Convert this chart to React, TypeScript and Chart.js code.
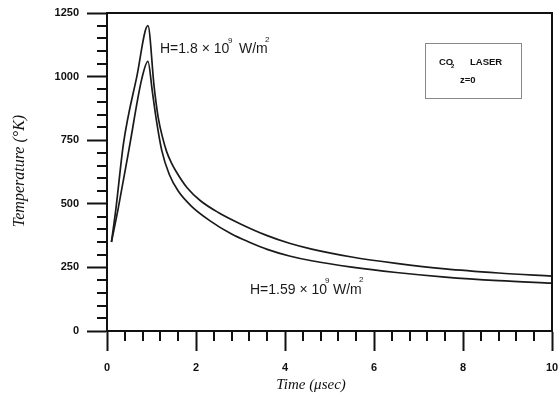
import React, { useEffect, useRef } from "react";
import { Chart, registerables } from "chart.js";

Chart.register(...registerables);

// Time (µsec) and temperature (°K) for H = 1.8 × 10^9 W/m²
const timeHigh = [0.1, 0.2, 0.37, 0.67, 0.92, 1.06, 1.15, 1.25, 1.34, 1.45, 1.55, 1.8, 2.1, 2.5, 3.0, 3.6, 4.1, 4.6, 5.5, 6.5, 7.6, 8.8, 10.0];
const tempHigh = [350, 480, 737, 1000, 1200, 959, 840, 760, 705, 660, 628, 563, 512, 466, 421, 375, 345, 322, 291, 266, 244, 228, 216];

// Time (µsec) and temperature (°K) for H = 1.59 × 10^9 W/m²
const timeLow = [0.1, 0.25, 0.5, 0.78, 0.92, 1.02, 1.1, 1.23, 1.4, 1.6, 1.9, 2.3, 2.8, 3.2, 3.6, 4.1, 4.6, 5.5, 6.5, 7.6, 8.8, 10.0];
const tempLow = [350, 480, 720, 990, 1060, 940, 840, 710, 615, 550, 490, 435, 381, 349, 321, 295, 276, 251, 230, 212, 198, 188];

// Axis ticks
const xMajorTicks = [0, 2, 4, 6, 8, 10];
const yMajorTicks = [0, 250, 500, 750, 1000, 1250];
const xMinorStep = 0.4;
const yMinorStep = 50;

const xTitle = "Time (\u03bcsec)";
const yTitle = "Temperature (\u00b0K)";

const annotationPlugin = {
  id: "annotations",
  afterDraw(chart: any) {
    const ctx = chart.ctx as CanvasRenderingContext2D;
    const { left, right, top, bottom } = chart.chartArea;
    const xs = chart.scales.x;
    const ys = chart.scales.y;
    ctx.save();
    ctx.strokeStyle = "#111";
    ctx.lineWidth = 2;
    // frame top/right
    ctx.beginPath();
    ctx.moveTo(left, top);
    ctx.lineTo(right, top);
    ctx.lineTo(right, bottom);
    ctx.stroke();
    // minor ticks
    const xMax = xMajorTicks[xMajorTicks.length - 1];
    for (let i = 1; i * xMinorStep < xMax - 1e-6; i++) {
      const v = i * xMinorStep;
      if (Math.abs(v / 2 - Math.round(v / 2)) < 1e-6) continue;
      const px = Math.round(xs.getPixelForValue(v));
      ctx.beginPath();
      ctx.moveTo(px, bottom);
      ctx.lineTo(px, bottom + 10);
      ctx.stroke();
    }
    const yMax = yMajorTicks[yMajorTicks.length - 1];
    for (let v = yMinorStep; v < yMax; v += yMinorStep) {
      if (v % 250 === 0) continue;
      const py = Math.round(ys.getPixelForValue(v));
      ctx.beginPath();
      ctx.moveTo(left - 10, py);
      ctx.lineTo(left, py);
      ctx.stroke();
    }

    // axis titles
    ctx.fillStyle = "#111";
    ctx.font = "italic 15px 'Liberation Serif', serif";
    ctx.textAlign = "center";
    ctx.textBaseline = "alphabetic";
    ctx.fillText(xTitle, 311, 389);
    ctx.save();
    ctx.translate(24, 171);
    ctx.rotate(-Math.PI / 2);
    ctx.font = "italic 16px 'Liberation Serif', serif";
    ctx.fillText(yTitle, 0, 0);
    ctx.restore();

    // curve labels
    ctx.textAlign = "left";
    ctx.fillStyle = "#1a1a1a";
    ctx.font = "14px 'Liberation Sans', Arial, sans-serif";
    ctx.fillText("H=1.8 \u00d7 10", 160, 53);
    ctx.fillText("W/m", 239, 53);
    ctx.fillText("H=1.59 \u00d7 10", 250, 294);
    ctx.fillText("W/m", 333, 294);
    ctx.font = "8px 'Liberation Sans', Arial, sans-serif";
    ctx.fillText("9", 228, 43);
    ctx.fillText("2", 265, 42);
    ctx.fillText("9", 325, 283);
    ctx.fillText("2", 359, 282);

    // info box
    ctx.strokeStyle = "#888";
    ctx.lineWidth = 1;
    ctx.strokeRect(425.5, 43.5, 96, 55);
    ctx.fillStyle = "#111";
    ctx.font = "bold 9.5px 'Liberation Sans', Arial, sans-serif";
    ctx.fillText("CO", 439, 65);
    ctx.fillText("LASER", 470, 65);
    ctx.fillText("z=0", 460, 83);
    ctx.font = "bold 6px 'Liberation Sans', Arial, sans-serif";
    ctx.fillText("2", 451, 68);
    ctx.restore();
  },
};

export default function App() {
  const canvasRef = useRef<HTMLCanvasElement | null>(null);

  useEffect(() => {
    document.body.style.margin = "0";
    const canvas = canvasRef.current;
    if (!canvas) return;
    const tickFont = { family: "'Liberation Sans', Arial, sans-serif", size: 11, weight: "bold" };
    const chart = new Chart(canvas, {
      type: "line",
      data: {
        datasets: [
          {
            label: "H=1.8e9",
            data: timeHigh.map((t, i) => ({ x: t, y: tempHigh[i] })),
            borderColor: "#1a1a1a",
            borderWidth: 1.7,
            pointRadius: 0,
            cubicInterpolationMode: "monotone",
          },
          {
            label: "H=1.59e9",
            data: timeLow.map((t, i) => ({ x: t, y: tempLow[i] })),
            borderColor: "#1a1a1a",
            borderWidth: 1.7,
            pointRadius: 0,
            cubicInterpolationMode: "monotone",
          },
        ],
      },
      options: {
        animation: false,
        responsive: false,
        maintainAspectRatio: false,
        layout: { padding: { top: 13, right: 6, left: 0, bottom: 0 } },
        plugins: { legend: { display: false }, tooltip: { enabled: false } },
        scales: {
          x: {
            type: "linear",
            min: xMajorTicks[0],
            max: xMajorTicks[xMajorTicks.length - 1],
            afterBuildTicks: (scale: any) => {
              scale.ticks = xMajorTicks.map((v) => ({ value: v }));
            },
            afterFit: (scale: any) => {
              scale.height = 66;
              scale.paddingLeft = 0;
              scale.paddingRight = 0;
            },
            grid: {
              drawOnChartArea: false,
              drawTicks: true,
              tickLength: 20,
              tickWidth: 2,
              tickColor: "#111",
            },
            border: { display: true, color: "#111", width: 2 },
            ticks: {
              padding: 10,
              color: "#111",
              maxRotation: 0,
              autoSkip: false,
              callback: (v: any) => String(v),
              font: tickFont,
            },
          },
          y: {
            type: "linear",
            min: yMajorTicks[0],
            max: yMajorTicks[yMajorTicks.length - 1],
            afterBuildTicks: (scale: any) => {
              scale.ticks = yMajorTicks.map((v) => ({ value: v }));
            },
            afterFit: (scale: any) => {
              scale.width = 107;
              scale.paddingTop = 0;
              scale.paddingBottom = 0;
            },
            grid: {
              drawOnChartArea: false,
              drawTicks: true,
              tickLength: 20,
              tickWidth: 2,
              tickColor: "#111",
            },
            border: { display: true, color: "#111", width: 2 },
            ticks: {
              padding: 8,
              color: "#111",
              autoSkip: false,
              callback: (v: any) => String(v),
              font: tickFont,
            },
          },
        },
      },
      plugins: [annotationPlugin],
    } as any);
    return () => chart.destroy();
  }, []);

  return (
    <div style={{ width: 558, height: 397, background: "#fff" }}>
      <canvas ref={canvasRef} width={558} height={397} style={{ display: "block" }} />
    </div>
  );
}
